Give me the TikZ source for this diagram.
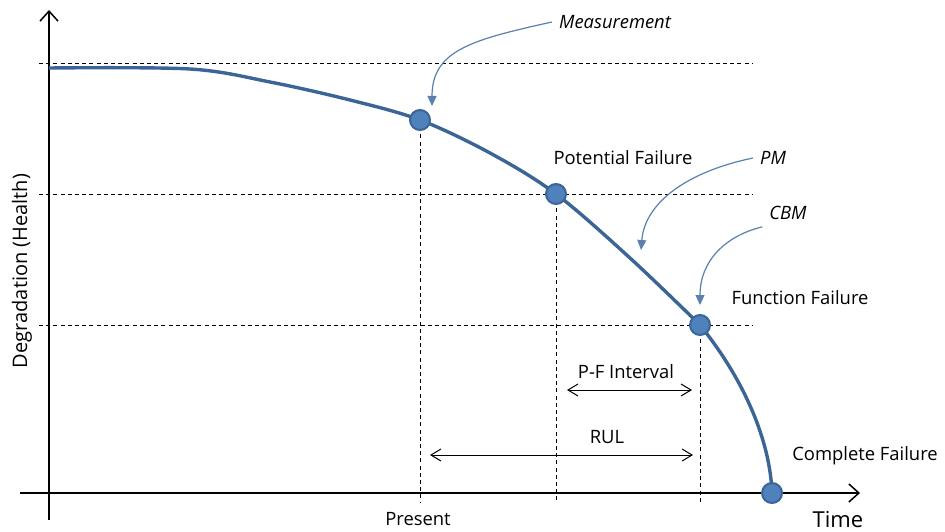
\documentclass[tikz,border=0pt]{standalone}
\usepackage{fontspec}
\setmainfont{Open Sans}
\usetikzlibrary{arrows.meta, positioning}

\definecolor{curveblue}{HTML}{3B6597}
\definecolor{dotblue}{HTML}{4F81BD}
\definecolor{notesblue}{HTML}{5B7FAF}

\begin{document}
\begin{tikzpicture}[
            x=0.5pt, y=0.5pt,
            every node/.style={font=\fontsize{9.2}{11}\selectfont},
            axis/.style={
                    line width=0.75pt,
                    -{Straight Barb[length=5pt,width=9pt]}
                },
            guide/.style={
                    line width=0.5pt,
                    dash pattern=on 2pt off 1.6pt
                },
            health/.style={
                    curveblue,
                    line width=1.7pt
                },
            dot/.style={
                    circle,
                    fill=dotblue,
                    draw=curveblue,
                    line width=1pt,
                    minimum size=10pt,
                    inner sep=0pt
                },
            span/.style={
                    line width=0.5pt,
                    {Straight Barb[length=5pt,width=6pt]}-{Straight Barb[length=5pt,width=6pt]}
                },
            note/.style={
                    notesblue,
                    line width=0.6pt,
                    -{Triangle[length=5pt,width=4.5pt]}
                },
            callout/.style={font=\fontsize{9.2}{11}\selectfont\itshape}
            ]

            \useasboundingbox (0,0) rectangle (945,531);

            % Achsen
            \coordinate (ybot) at (49,11);
            \coordinate (ytop) at (49,521);
            \coordinate (xleft) at (20,38);
            \coordinate (xright) at (860,38);
            \draw [axis] (ybot) -- (ytop);
            \draw [axis] (xleft) -- (xright);

            % Hilfslinien horizontal
            \coordinate (h1a) at (39,467);
            \coordinate (h1b) at (753,467);
            \coordinate (h2a) at (39,337);
            \coordinate (h2b) at (753,337);
            \coordinate (h3a) at (39,206);
            \coordinate (h3b) at (753,206);
            \draw [guide] (h1a) -- (h1b);
            \draw [guide] (h2a) -- (h2b);
            \draw [guide] (h3a) -- (h3b);

            % Verlauf
            \draw [health] plot [smooth, tension=0.55] coordinates {
                    (49,463) (190,462) (270,449) (350,431) (420,411)
                    (490,378) (556,337) (630,273) (700,206)}
                .. controls (745,150) and (770,90) .. (772,38);

            % Punkte
            \coordinate (v1) at (420,28);
            \coordinate (v2) at (556,28);
            \coordinate (v3) at (700,28);
            \draw [guide] (420,411) -- (v1);
            \draw [guide] (556,337) -- (v2);
            \draw [guide] (700,206) -- (v3);

            \node (present) [dot] at (420,411) {};
            \node (potential) [dot] at (556,337) {};
            \node (function) [dot] at (700,206) {};
            \node (complete) [dot] at (772,38) {};

            % Beschriftung
            \node (ylabel) [rotate=90, font=\fontsize{10}{12}\selectfont] at (22,260) {Degradation (Health)};
            \node (presentlbl) at (418,12) {Present};
            \node (timelbl) [font=\fontsize{11}{13}\selectfont] at (838,11) {Time};
            \node (potlbl) at (623,373) {Potential Failure};
            \node (funclbl) at (800,233) {Function Failure};
            \node (complbl) at (865,75) {Complete Failure};
            \node (measlbl) [callout] at (615,509) {Measurement};
            \node (pmlbl) [callout] at (773,373) {PM};
            \node (cbmlbl) [callout] at (788,318) {CBM};

            % Intervalle
            \coordinate (pfa) at (567,141);
            \coordinate (pfb) at (692,141);
            \coordinate (rula) at (430,76);
            \coordinate (rulb) at (693,76);
            \draw [span] (pfa) -- (pfb);
            \draw [span] (rula) -- (rulb);
            \node (pflbl) at (626,159) {P-F Interval};
            \node (rullbl) at (607,94) {RUL};

            % Hinweispfeile
            \coordinate (measend) at (432,425);
            \coordinate (pmend) at (641,281);
            \coordinate (cbmend) at (700,226);
            \draw [note] (measlbl.west) .. controls (470,491) and (432,480) .. (measend);
            \draw [note] (pmlbl.west) .. controls (690,360) and (645,330) .. (pmend);
            \draw [note] (cbmlbl.south west) .. controls (725,295) and (700,270) .. (cbmend);

        \end{tikzpicture}
\end{document}
